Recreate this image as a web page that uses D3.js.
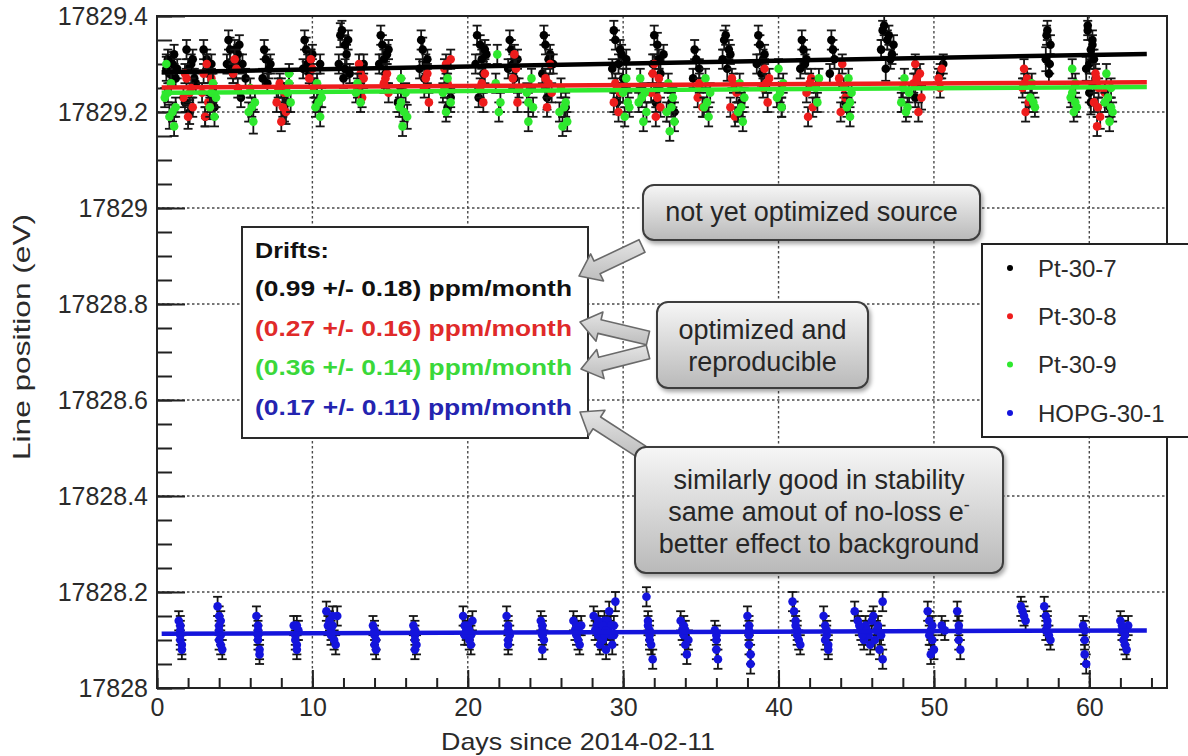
<!DOCTYPE html>
<html>
<head>
<meta charset="utf-8">
<script src="https://cdn.jsdelivr.net/npm/d3@7"></script>
<style>
  body { margin: 0; background: #fff; }
  svg text { font-family: Arial, Helvetica, "Liberation Sans", sans-serif; }
</style>
</head>
<body>
<div id="chart"></div>
<script>

// series names and colours (legend order)
var seriesNames = ['Pt-30-7', 'Pt-30-8', 'Pt-30-9', 'HOPG-30-1'];
var seriesColors = ['#000000', '#ee1c1c', '#2ee82e', '#1414dc'];

// [day, line position (eV), error]
var pt307 = [
  [0.6,17829.29,.025],[0.8,17829.28,.02],[1.0,17829.30,.025],[1.2,17829.27,.02],
  [1.8,17829.22,.02],[2.0,17829.29,.02],[2.1,17829.20,.025],[2.3,17829.31,.02],[2.4,17829.27,.02],
  [3.1,17829.19,.02],[3.3,17829.28,.02],[3.5,17829.30,.02],[3.7,17829.21,.02],
  [4.5,17829.30,.02],[4.7,17829.33,.025],[4.9,17829.28,.02],[5.1,17829.31,.02],[5.2,17829.32,.02],
  [5.4,17829.23,.02],[5.5,17829.30,.02],[5.7,17829.27,.02],
  [6.8,17829.27,.02],[7.0,17829.31,.02],[7.1,17829.26,.02],[7.2,17829.29,.02],
  [8.2,17829.20,.02],[8.4,17829.22,.02],
  [9.4,17829.29,.02],[9.6,17829.33,.025],[9.8,17829.28,.02],[9.9,17829.31,.02],
  [10.3,17829.22,.02],[10.5,17829.30,.02],
  [11.7,17829.30,.02],[11.8,17829.36,.025],[12.0,17829.27,.02],[12.1,17829.34,.02],[12.2,17829.32,.02],[12.4,17829.28,.02],
  [13.1,17829.24,.02],[13.3,17829.30,.02],
  [14.3,17829.30,.02],[14.5,17829.34,.02],[14.7,17829.28,.025],[14.8,17829.32,.02],
  [15.5,17829.22,.02],[15.7,17829.25,.02],
  [16.9,17829.29,.02],[17.1,17829.33,.025],[17.2,17829.27,.02],[17.4,17829.31,.02],
  [18.7,17829.21,.02],[18.9,17829.23,.02],
  [20.5,17829.30,.02],[20.7,17829.23,.02],[20.8,17829.34,.02],[21.0,17829.28,.025],[21.2,17829.32,.02],
  [22.6,17829.29,.02],[22.8,17829.33,.02],[23.0,17829.27,.025],[23.2,17829.31,.02],
  [24.8,17829.28,.02],[25.0,17829.34,.02],[25.1,17829.23,.025],[25.3,17829.32,.02],[25.5,17829.30,.02],
  [26.3,17829.21,.02],
  [29.3,17829.29,.02],[29.5,17829.35,.02],[29.6,17829.22,.025],[29.8,17829.33,.02],[30.0,17829.27,.02],[30.2,17829.31,.02],
  [31.9,17829.30,.02],[32.1,17829.22,.02],[32.2,17829.34,.025],[32.4,17829.28,.02],[32.6,17829.32,.02],
  [33.1,17829.22,.02],[33.3,17829.20,.02],
  [34.5,17829.27,.02],[34.7,17829.31,.02],[34.9,17829.29,.02],
  [36.4,17829.31,.02],[36.5,17829.35,.02],[36.7,17829.29,.025],[36.8,17829.33,.02],
  [37.4,17829.20,.02],[37.6,17829.22,.02],
  [38.6,17829.30,.02],[38.8,17829.34,.02],[38.9,17829.28,.025],[39.1,17829.32,.02],
  [40.2,17829.21,.02],
  [41.4,17829.29,.02],[41.6,17829.33,.02],[41.8,17829.31,.02],
  [43.3,17829.28,.02],[43.5,17829.33,.02],[43.6,17829.31,.02],
  [44.3,17829.22,.02],
  [46.6,17829.33,.02],[46.8,17829.38,.02],[46.9,17829.29,.025],[47.1,17829.36,.02],[47.2,17829.31,.02],[47.4,17829.34,.02],
  [48.8,17829.23,.02],
  [50.4,17829.28,.02],[50.6,17829.30,.02],
  [57.2,17829.31,.025],[57.3,17829.37,.02],[57.4,17829.28,.02],[57.5,17829.34,.02],
  [59.8,17829.29,.025],[59.9,17829.38,.02],[60.0,17829.24,.02],[60.1,17829.33,.02],[60.1,17829.22,.025],
  [60.2,17829.35,.02],[60.3,17829.31,.02],[60.4,17829.27,.02],
  [61.3,17829.21,.02],
  [0.7,17829.31,.02],[0.9,17829.26,.02],[1.1,17829.32,.02],[1.3,17829.29,.02],
  [1.9,17829.33,.02],[2.2,17829.30,.02],[2.5,17829.26,.02],
  [3.0,17829.33,.02],[3.2,17829.31,.02],[3.6,17829.24,.02],
  [4.6,17829.35,.02],[4.8,17829.29,.02],[5.0,17829.33,.02],[5.3,17829.34,.02],
  [6.9,17829.33,.02],[7.3,17829.30,.02],[8.0,17829.25,.02],
  [9.5,17829.35,.02],[9.7,17829.30,.02],[10.0,17829.32,.02],
  [11.9,17829.37,.02],[12.1,17829.29,.02],[12.3,17829.35,.02],
  [14.4,17829.36,.02],[14.6,17829.31,.02],[14.9,17829.33,.02],
  [17.0,17829.35,.02],[17.3,17829.30,.02],
  [20.6,17829.36,.02],[20.9,17829.31,.02],[21.1,17829.33,.02],
  [22.7,17829.35,.02],[22.9,17829.30,.02],
  [24.9,17829.36,.02],[25.2,17829.31,.02],
  [29.4,17829.37,.02],[29.7,17829.30,.02],[29.9,17829.32,.02],
  [32.0,17829.36,.02],[32.3,17829.31,.02],[34.6,17829.33,.02],
  [36.6,17829.36,.02],[36.9,17829.32,.02],
  [38.7,17829.36,.02],[39.0,17829.31,.02],
  [41.5,17829.35,.02],[41.7,17829.30,.02],[43.4,17829.35,.02],
  [46.7,17829.37,.02],[47.0,17829.35,.02],[47.3,17829.32,.02],
  [57.25,17829.36,.02],[57.45,17829.30,.02],
  [59.9,17829.37,.02],[60.0,17829.30,.02],[60.2,17829.34,.02],[60.3,17829.26,.02]
];

var pt308 = [
  [1.7,17829.23,.02],[1.9,17829.27,.02],[2.0,17829.19,.025],[2.2,17829.25,.02],[2.3,17829.21,.02],
  [2.9,17829.24,.02],[3.1,17829.19,.02],[3.2,17829.30,.02],[3.4,17829.21,.025],[3.5,17829.27,.02],
  [4.9,17829.28,.02],[5.0,17829.31,.02],[5.2,17829.25,.02],
  [7.7,17829.22,.02],[7.9,17829.26,.02],[8.0,17829.18,.02],[8.2,17829.24,.02],[8.3,17829.20,.025],
  [9.8,17829.27,.02],[9.9,17829.31,.02],[10.1,17829.25,.02],
  [12.9,17829.25,.02],[13.0,17829.30,.02],[13.2,17829.23,.02],[13.3,17829.27,.02],
  [14.6,17829.26,.02],[14.8,17829.28,.02],[14.9,17829.24,.02],
  [17.2,17829.25,.02],[17.4,17829.28,.02],[17.5,17829.22,.02],
  [18.5,17829.29,.02],[18.7,17829.26,.02],[18.9,17829.31,.02],
  [20.8,17829.25,.02],[21.0,17829.22,.02],[21.1,17829.28,.02],
  [22.9,17829.27,.02],[23.0,17829.32,.02],[23.2,17829.22,.02],[23.3,17829.25,.02],
  [25.0,17829.27,.02],[25.1,17829.21,.02],[25.3,17829.30,.02],[25.4,17829.24,.02],
  [29.4,17829.22,.02],[29.5,17829.26,.02],[29.7,17829.20,.02],[29.8,17829.24,.02],
  [31.8,17829.24,.02],[32.0,17829.30,.02],[32.1,17829.19,.02],[32.3,17829.27,.02],[32.4,17829.21,.02],
  [34.8,17829.23,.02],[34.9,17829.26,.02],[35.1,17829.21,.02],
  [36.9,17829.21,.02],[37.0,17829.27,.02],[37.2,17829.19,.02],[37.3,17829.24,.02],
  [39.0,17829.25,.02],[39.1,17829.29,.02],[39.3,17829.22,.02],[39.4,17829.27,.02],
  [41.8,17829.24,.02],[41.9,17829.19,.02],[42.1,17829.27,.02],[42.2,17829.21,.02],
  [43.9,17829.27,.02],[44.0,17829.20,.02],[44.1,17829.30,.02],[44.3,17829.23,.02],
  [48.7,17829.26,.02],[48.8,17829.30,.02],[49.0,17829.20,.02],[49.1,17829.28,.02],[49.2,17829.23,.025],
  [50.3,17829.27,.02],[50.4,17829.25,.02],[50.5,17829.29,.02],
  [55.7,17829.25,.02],[55.8,17829.29,.02],[55.9,17829.20,.02],[56.0,17829.27,.02],[56.1,17829.22,.02],
  [60.3,17829.22,.02],[60.4,17829.28,.02],[60.5,17829.17,.02],[60.6,17829.25,.02],[60.7,17829.19,.025],
  [61.0,17829.24,.02],
  [1.8,17829.28,.02],[2.1,17829.24,.02],[3.0,17829.28,.02],[3.3,17829.22,.02],
  [5.1,17829.29,.02],[7.8,17829.25,.02],[8.1,17829.21,.02],
  [10.0,17829.29,.02],[13.1,17829.28,.02],[14.7,17829.27,.02],
  [17.3,17829.27,.02],[18.6,17829.30,.02],[20.9,17829.26,.02],
  [23.1,17829.29,.02],[25.2,17829.26,.02],[29.6,17829.25,.02],
  [31.9,17829.28,.02],[32.2,17829.23,.02],[34.9,17829.25,.02],
  [37.1,17829.26,.02],[39.2,17829.26,.02],[42.0,17829.26,.02],
  [44.2,17829.25,.02],[48.9,17829.27,.02],[55.85,17829.26,.02],[60.45,17829.27,.02],[60.55,17829.21,.02]
];

var pt309 = [
  [0.5,17829.23,.02],[0.6,17829.30,.02],[0.8,17829.19,.025],[0.9,17829.26,.02],[1.1,17829.17,.02],[1.2,17829.21,.02],
  [3.4,17829.21,.02],[3.6,17829.26,.02],[3.7,17829.19,.02],[3.8,17829.23,.02],
  [5.9,17829.20,.02],[6.0,17829.25,.02],[6.2,17829.18,.025],[6.3,17829.22,.02],
  [8.4,17829.24,.02],[8.5,17829.28,.02],[8.6,17829.22,.02],
  [10.2,17829.21,.02],[10.3,17829.26,.02],[10.5,17829.19,.02],[10.6,17829.23,.02],
  [12.8,17829.24,.02],[12.9,17829.26,.02],[13.1,17829.22,.02],
  [15.6,17829.21,.02],[15.7,17829.27,.02],[15.8,17829.17,.02],[16.0,17829.24,.02],[16.1,17829.19,.025],
  [18.4,17829.24,.02],[18.6,17829.20,.02],[18.7,17829.27,.02],[18.9,17829.22,.02],
  [21.8,17829.26,.02],[21.9,17829.32,.02],[22.0,17829.20,.02],[22.1,17829.22,.02],
  [23.8,17829.24,.02],[23.9,17829.18,.02],[24.1,17829.27,.02],[24.2,17829.21,.02],
  [25.9,17829.20,.02],[26.0,17829.25,.02],[26.1,17829.17,.02],[26.3,17829.22,.02],[26.4,17829.18,.02],
  [30.0,17829.24,.02],[30.1,17829.19,.02],[30.2,17829.27,.02],[30.4,17829.21,.02],
  [31.0,17829.22,.02],[31.1,17829.27,.02],[31.3,17829.18,.02],[31.4,17829.24,.02],[31.5,17829.20,.02],
  [32.8,17829.20,.02],[32.9,17829.26,.02],[33.0,17829.16,.02],[33.2,17829.23,.02],[33.3,17829.18,.02],
  [35.2,17829.21,.02],[35.3,17829.27,.02],[35.5,17829.19,.02],[35.6,17829.24,.02],
  [37.4,17829.20,.02],[37.5,17829.26,.02],[37.7,17829.18,.02],[37.8,17829.23,.02],
  [39.9,17829.23,.02],[40.0,17829.29,.02],[40.2,17829.21,.02],[40.3,17829.26,.02],
  [42.4,17829.25,.02],[42.5,17829.22,.02],[42.6,17829.27,.02],
  [44.4,17829.21,.02],[44.5,17829.27,.02],[44.6,17829.19,.02],[44.7,17829.24,.02],
  [47.9,17829.22,.02],[48.1,17829.27,.02],[48.2,17829.20,.02],[48.4,17829.24,.02],
  [56.2,17829.23,.02],[56.3,17829.26,.02],[56.5,17829.21,.02],
  [58.8,17829.23,.02],[58.9,17829.29,.02],[59.0,17829.20,.02],[59.1,17829.26,.02],[59.2,17829.21,.02],
  [61.0,17829.22,.02],[61.1,17829.28,.02],[61.3,17829.18,.02],[61.4,17829.25,.02],[61.5,17829.20,.02],
  [0.7,17829.24,.02],[1.0,17829.20,.02],[3.5,17829.24,.02],[6.1,17829.21,.02],
  [8.5,17829.26,.02],[10.4,17829.22,.02],[15.7,17829.22,.02],[15.9,17829.20,.02],
  [18.5,17829.25,.02],[23.9,17829.22,.02],[26.2,17829.21,.02],[30.3,17829.22,.02],
  [31.2,17829.23,.02],[33.1,17829.21,.02],[35.4,17829.22,.02],[37.6,17829.21,.02],
  [40.1,17829.24,.02],[44.6,17829.22,.02],[48.0,17829.25,.02],[48.3,17829.21,.02],
  [56.4,17829.22,.02],[58.9,17829.24,.02],[59.1,17829.22,.02],[61.2,17829.23,.02],[61.4,17829.21,.02]
];

var hopg301 = [
  [1.4,17828.14,.02],[1.5,17828.12,.02],[1.5,17828.10,.02],[1.6,17828.08,.02],[1.5,17828.11,.02],
  [3.9,17828.17,.02],[4.0,17828.15,.02],[4.0,17828.13,.02],[4.1,17828.11,.02],[4.1,17828.09,.02],[4.2,17828.08,.02],
  [6.4,17828.15,.02],[6.5,17828.12,.02],[6.5,17828.10,.02],[6.6,17828.08,.02],[6.6,17828.07,.02],
  [8.8,17828.13,.02],[8.9,17828.11,.02],[9.0,17828.09,.02],[9.0,17828.08,.02],[9.1,17828.12,.02],
  [10.9,17828.16,.02],[11.1,17828.14,.02],[11.2,17828.12,.02],[11.3,17828.13,.02],[11.4,17828.10,.02],[11.5,17828.09,.02],[11.6,17828.15,.02],
  [13.9,17828.13,.02],[14.0,17828.11,.02],[14.0,17828.09,.02],[14.1,17828.08,.02],
  [16.5,17828.13,.02],[16.6,17828.11,.02],[16.7,17828.09,.02],[16.6,17828.08,.02],
  [19.7,17828.15,.02],[19.8,17828.13,.02],[19.9,17828.12,.02],[20.0,17828.11,.02],[20.1,17828.10,.02],[20.2,17828.09,.02],[20.3,17828.14,.02],
  [22.5,17828.15,.02],[22.6,17828.13,.02],[22.7,17828.11,.02],[22.6,17828.09,.02],
  [24.7,17828.14,.02],[24.8,17828.12,.02],[24.9,17828.10,.02],[24.8,17828.08,.02],
  [26.8,17828.14,.02],[26.9,17828.12,.02],[27.0,17828.11,.02],[27.1,17828.10,.02],[27.2,17828.09,.02],[27.3,17828.13,.02],
  [28.1,17828.15,.02],[28.3,17828.13,.02],[28.4,17828.11,.02],[28.5,17828.09,.02],[28.6,17828.12,.02],[28.7,17828.10,.02],
  [28.8,17828.14,.02],[28.9,17828.08,.02],[29.0,17828.12,.02],[29.1,17828.16,.02],[29.2,17828.11,.02],[29.3,17828.09,.02],
  [29.4,17828.13,.02],[29.5,17828.18,.02],
  [31.5,17828.19,.02],[31.6,17828.14,.02],[31.7,17828.12,.02],[31.8,17828.09,.02],[31.9,17828.06,.02],[31.7,17828.10,.02],
  [33.7,17828.14,.02],[33.8,17828.12,.02],[33.9,17828.11,.02],[34.0,17828.09,.02],[34.1,17828.07,.02],[34.2,17828.10,.02],
  [35.9,17828.12,.02],[36.0,17828.10,.02],[36.0,17828.08,.02],[36.1,17828.06,.02],
  [38.0,17828.15,.02],[38.1,17828.12,.02],[38.1,17828.09,.02],[38.2,17828.07,.02],[38.2,17828.05,.02],
  [40.9,17828.18,.02],[41.0,17828.16,.02],[41.1,17828.14,.02],[41.2,17828.12,.02],[41.3,17828.10,.02],[41.4,17828.09,.02],
  [42.9,17828.15,.02],[43.0,17828.13,.02],[43.1,17828.11,.02],[43.2,17828.09,.02],[43.2,17828.08,.02],
  [44.9,17828.16,.02],[45.1,17828.14,.02],[45.3,17828.12,.02],[45.5,17828.10,.02],[45.6,17828.13,.02],[45.8,17828.11,.02],
  [45.9,17828.09,.02],[46.1,17828.15,.02],[46.3,17828.12,.02],[46.5,17828.08,.02],[46.7,17828.18,.02],[46.7,17828.06,.02],
  [49.6,17828.16,.02],[49.7,17828.14,.02],[49.8,17828.12,.02],[49.9,17828.10,.02],[50.0,17828.08,.02],[49.8,17828.07,.02],
  [50.5,17828.13,.02],[50.7,17828.12,.02],
  [51.5,17828.16,.02],[51.6,17828.13,.02],[51.6,17828.10,.02],[51.7,17828.08,.02],
  [55.6,17828.17,.02],[55.7,17828.16,.02],[55.8,17828.15,.02],[55.9,17828.14,.02],
  [57.1,17828.17,.02],[57.2,17828.15,.02],[57.3,17828.13,.02],[57.4,17828.11,.02],[57.5,17828.10,.02],
  [59.6,17828.13,.02],[59.7,17828.10,.02],[59.7,17828.07,.02],[59.8,17828.05,.02],
  [62.0,17828.14,.02],[62.1,17828.12,.02],[62.2,17828.10,.02],[62.3,17828.09,.02],[62.4,17828.08,.02],[62.5,17828.13,.02],
  [1.5,17828.13,.02],[1.6,17828.09,.02],[4.0,17828.12,.02],[4.1,17828.14,.02],[4.0,17828.10,.02],
  [6.5,17828.13,.02],[6.5,17828.11,.02],[8.9,17828.10,.02],[9.0,17828.13,.02],
  [11.2,17828.11,.02],[11.3,17828.15,.02],[11.0,17828.13,.02],[14.0,17828.12,.02],[14.1,17828.10,.02],
  [16.6,17828.12,.02],[16.6,17828.10,.02],
  [19.8,17828.11,.02],[20.0,17828.13,.02],[20.1,17828.12,.02],[20.2,17828.11,.02],
  [22.6,17828.12,.02],[22.6,17828.10,.02],[24.8,17828.11,.02],[24.8,17828.13,.02],
  [27.0,17828.13,.02],[27.1,17828.12,.02],
  [28.2,17828.12,.02],[28.4,17828.14,.02],[28.6,17828.10,.02],[28.8,17828.11,.02],[29.0,17828.14,.02],
  [29.2,17828.13,.02],[29.4,17828.11,.02],[28.7,17828.13,.02],[28.9,17828.12,.02],
  [31.7,17828.11,.02],[31.6,17828.13,.02],[33.9,17828.13,.02],[34.0,17828.12,.02],[36.0,17828.11,.02],
  [38.1,17828.11,.02],[38.1,17828.13,.02],[41.1,17828.13,.02],[41.2,17828.11,.02],
  [43.1,17828.12,.02],[43.0,17828.10,.02],
  [45.2,17828.13,.02],[45.4,17828.11,.02],[45.7,17828.12,.02],[46.0,17828.14,.02],[46.2,17828.10,.02],
  [46.4,17828.13,.02],[46.6,17828.11,.02],
  [49.7,17828.11,.02],[49.9,17828.13,.02],[51.6,17828.12,.02],
  [57.3,17828.14,.02],[57.2,17828.12,.02],[59.7,17828.12,.02],
  [62.2,17828.12,.02],[62.3,17828.11,.02],[62.1,17828.13,.02]
];

// linear fits: value at first and last day of fit range
var fitDays = [0.3, 63.7];
var fitPt307 = [17829.283, 17829.321];
var fitPt308 = [17829.251, 17829.262];
var fitPt309 = [17829.240, 17829.252];
var fitHopg301 = [17828.113, 17828.120];

var driftLabels = [
  '(0.99 +/- 0.18) ppm/month',
  '(0.27 +/- 0.16) ppm/month',
  '(0.36 +/- 0.14) ppm/month',
  '(0.17 +/- 0.11) ppm/month'
];
var driftColors = ['#111111', '#e02a2a', '#3ad83a', '#2424b0'];

var xTicksMajor = [0, 10, 20, 30, 40, 50, 60];
var yTicksMajor = [17828, 17828.2, 17828.4, 17828.6, 17828.8, 17829, 17829.2, 17829.4];


function renderChart() {
    var attrs = {
        svgWidth: 1188,
        svgHeight: 756,
        marginTop: 16,
        marginLeft: 157,
        marginRight: 21,
        marginBottom: 68,
        fontFamily: 'Arial, Helvetica, "Liberation Sans", sans-serif'
    };

    var calc = {};
    calc.left = attrs.marginLeft;
    calc.top = attrs.marginTop;
    calc.right = attrs.svgWidth - attrs.marginRight;
    calc.bottom = attrs.svgHeight - attrs.marginBottom;

    var svg = d3.select('#chart')
        .append('svg')
        .attr('width', attrs.svgWidth)
        .attr('height', attrs.svgHeight)
        .attr('font-family', attrs.fontFamily);

    var defs = svg.append('defs');
    defs.append('clipPath').attr('id', 'plotClip')
        .append('rect')
        .attr('x', calc.left).attr('y', calc.top)
        .attr('width', calc.right - calc.left).attr('height', calc.bottom - calc.top);

    var grad = defs.append('linearGradient').attr('id', 'boxGrad')
        .attr('x1', 0).attr('y1', 0).attr('x2', 0).attr('y2', 1);
    grad.append('stop').attr('offset', '0%').attr('stop-color', '#f6f6f6');
    grad.append('stop').attr('offset', '100%').attr('stop-color', '#b9b9b9');

    var agrad = defs.append('linearGradient').attr('id', 'arrowGrad')
        .attr('x1', 0).attr('y1', 0).attr('x2', 0).attr('y2', 1);
    agrad.append('stop').attr('offset', '0%').attr('stop-color', '#e4e4e4');
    agrad.append('stop').attr('offset', '100%').attr('stop-color', '#bdbdbd');

    var shadow = defs.append('filter').attr('id', 'shadow')
        .attr('x', '-10%').attr('y', '-10%').attr('width', '130%').attr('height', '140%');
    shadow.append('feDropShadow')
        .attr('dx', 2).attr('dy', 3).attr('stdDeviation', 2)
        .attr('flood-color', '#000').attr('flood-opacity', 0.35);

    var x = d3.scaleLinear().domain([0, 65]).range([calc.left, calc.right]);
    var y = d3.scaleLinear().domain([17828, 17829.4]).range([calc.bottom, calc.top]);

    // grid
    var grid = svg.append('g')
        .attr('stroke', '#4a4a4a')
        .attr('stroke-width', 1.4)
        .attr('stroke-dasharray', '2.5,2.5');
    grid.selectAll('.gx')
        .data(xTicksMajor.filter(function (d) { return d > 0; }))
        .enter().append('line')
        .attr('x1', function (d) { return x(d); })
        .attr('x2', function (d) { return x(d); })
        .attr('y1', calc.top).attr('y2', calc.bottom);
    grid.selectAll('.gy')
        .data(yTicksMajor.slice(1, -1))
        .enter().append('line')
        .attr('y1', function (d) { return y(d); })
        .attr('y2', function (d) { return y(d); })
        .attr('x1', calc.left).attr('x2', calc.right);

    // axes (ROOT style: ticks pointing inside)
    var fmt = function (d) { return String(+d.toFixed(1)); };

    svg.append('g')
        .attr('transform', 'translate(' + calc.left + ',0)')
        .call(d3.axisLeft(y).tickValues(yTicksMajor).tickSize(-28).tickPadding(9).tickFormat(fmt));
    svg.append('g')
        .attr('transform', 'translate(' + calc.left + ',0)')
        .call(d3.axisLeft(y).tickValues(d3.range(17828, 17829.4, 0.05)).tickSize(-15).tickFormat(''));

    svg.append('g')
        .attr('transform', 'translate(0,' + calc.bottom + ')')
        .call(d3.axisBottom(x).tickValues(xTicksMajor).tickSize(-18).tickPadding(10).tickFormat(d3.format('d')));
    svg.append('g')
        .attr('transform', 'translate(0,' + calc.bottom + ')')
        .call(d3.axisBottom(x).tickValues(d3.range(0, 65, 2)).tickSize(-10).tickFormat(''));

    svg.selectAll('.domain').remove();
    svg.selectAll('.tick line').attr('stroke', '#222').attr('stroke-width', 2);
    svg.selectAll('.tick text')
        .attr('font-family', attrs.fontFamily)
        .attr('font-size', 25)
        .attr('fill', '#2a2a2a');

    // data points
    var plot = svg.append('g').attr('clip-path', 'url(#plotClip)');
    var allSeries = [pt307, pt308, pt309, hopg301];

    allSeries.forEach(function (data, si) {
        var g = plot.append('g');
        var bars = g.selectAll('.err').data(data).enter().append('g')
            .attr('stroke', '#151515').attr('stroke-width', 1.8);
        bars.append('line')
            .attr('x1', function (d) { return x(d[0]); })
            .attr('x2', function (d) { return x(d[0]); })
            .attr('y1', function (d) { return y(d[1] - d[2]); })
            .attr('y2', function (d) { return y(d[1] + d[2]); });
        bars.append('line')
            .attr('x1', function (d) { return x(d[0]) - 4.5; })
            .attr('x2', function (d) { return x(d[0]) + 4.5; })
            .attr('y1', function (d) { return y(d[1] + d[2]); })
            .attr('y2', function (d) { return y(d[1] + d[2]); });
        bars.append('line')
            .attr('x1', function (d) { return x(d[0]) - 4.5; })
            .attr('x2', function (d) { return x(d[0]) + 4.5; })
            .attr('y1', function (d) { return y(d[1] - d[2]); })
            .attr('y2', function (d) { return y(d[1] - d[2]); });
        g.selectAll('circle').data(data).enter().append('circle')
            .attr('cx', function (d) { return x(d[0]); })
            .attr('cy', function (d) { return y(d[1]); })
            .attr('r', 4.3)
            .attr('fill', seriesColors[si]);
    });

    // fit lines
    var fits = [fitPt307, fitPt308, fitPt309, fitHopg301];
    var line = d3.line()
        .x(function (d, i) { return x(fitDays[i]); })
        .y(function (d) { return y(d); });
    fits.forEach(function (f, i) {
        plot.append('path')
            .attr('d', line(f))
            .attr('fill', 'none')
            .attr('stroke', seriesColors[i])
            .attr('stroke-width', 4.5);
    });

    // frame
    svg.append('rect')
        .attr('x', calc.left).attr('y', calc.top)
        .attr('width', calc.right - calc.left).attr('height', calc.bottom - calc.top)
        .attr('fill', 'none').attr('stroke', '#222').attr('stroke-width', 2);

    // axis titles
    svg.append('text')
        .attr('x', 578)
        .attr('y', 750)
        .attr('text-anchor', 'middle')
        .attr('font-size', 24)
        .attr('fill', '#2a2a2a')
        .attr('textLength', 274)
        .attr('lengthAdjust', 'spacingAndGlyphs')
        .text('Days since 2014-02-11');

    svg.append('text')
        .attr('transform', 'translate(30,337) rotate(-90)')
        .attr('text-anchor', 'middle')
        .attr('font-size', 24)
        .attr('fill', '#2a2a2a')
        .attr('textLength', 246)
        .attr('lengthAdjust', 'spacingAndGlyphs')
        .text('Line position (eV)');

    // drifts box
    svg.append('rect')
        .attr('x', 242).attr('y', 227).attr('width', 346).attr('height', 211)
        .attr('fill', '#fff').attr('stroke', '#2a2a2a').attr('stroke-width', 2);
    svg.append('text')
        .attr('x', 255).attr('y', 258)
        .attr('font-size', 22).attr('font-weight', 'bold')
        .attr('fill', '#111')
        .attr('textLength', 74).attr('lengthAdjust', 'spacingAndGlyphs')
        .text('Drifts:');
    svg.selectAll('.drift').data(driftLabels).enter().append('text')
        .attr('x', 255)
        .attr('y', function (d, i) { return 296 + i * 39.5; })
        .attr('font-size', 22).attr('font-weight', 'bold')
        .attr('fill', function (d, i) { return driftColors[i]; })
        .attr('textLength', 317).attr('lengthAdjust', 'spacingAndGlyphs')
        .text(function (d) { return d; });

    // legend
    var legend = svg.append('g');
    legend.append('rect')
        .attr('x', 982).attr('y', 244).attr('width', 230).attr('height', 193)
        .attr('fill', '#fff').attr('stroke', '#222').attr('stroke-width', 2);
    var items = legend.selectAll('.item').data(seriesNames).enter().append('g')
        .attr('transform', function (d, i) { return 'translate(0,' + (268 + i * 48.3) + ')'; });
    items.append('circle').attr('cx', 1010).attr('cy', 0).attr('r', 3)
        .attr('fill', function (d, i) { return seriesColors[i]; });
    items.append('text').attr('x', 1038).attr('y', 0).attr('dy', '0.36em')
        .attr('font-size', 24).attr('fill', '#2a2a2a')
        .text(function (d) { return d; });

    // callout arrows
    function arrowPath(x1, y1, x2, y2) {
        var dx = x2 - x1, dy = y2 - y1, L = Math.hypot(dx, dy);
        var ux = dx / L, uy = dy / L, nx = -uy, ny = ux;
        var sw = 7, hw = 15, hl = 20;
        var bx = x2 - ux * hl, by = y2 - uy * hl;
        return d3.line()([
            [x1 + nx * sw, y1 + ny * sw], [bx + nx * sw, by + ny * sw], [bx + nx * hw, by + ny * hw],
            [x2, y2],
            [bx - nx * hw, by - ny * hw], [bx - nx * sw, by - ny * sw], [x1 - nx * sw, y1 - ny * sw]
        ]) + 'Z';
    }
    var arrows = [[642, 246, 579, 276], [648, 338, 580, 322], [648, 352, 581, 369], [642, 452, 580, 412]];
    svg.selectAll('.arrow').data(arrows).enter().append('path')
        .attr('d', function (a) { return arrowPath(a[0], a[1], a[2], a[3]); })
        .attr('fill', 'url(#arrowGrad)')
        .attr('stroke', '#6a6a6a').attr('stroke-width', 1.6)
        .attr('stroke-linejoin', 'round');

    // callout boxes
    var callouts = [
        { x: 643, y: 185, w: 337, h: 55, lines: ['not yet optimized source'], y0: 221 },
        { x: 657, y: 302, w: 211, h: 86, lines: ['optimized and', 'reproducible'], y0: 339 },
        { x: 635, y: 447, w: 368, h: 126, lines: ['similarly good in stability', 'same amout of no-loss e', 'better effect to background'], y0: 489 }
    ];
    callouts.forEach(function (c) {
        var g = svg.append('g');
        g.append('rect')
            .attr('x', c.x).attr('y', c.y).attr('width', c.w).attr('height', c.h)
            .attr('rx', 11).attr('ry', 11)
            .attr('fill', 'url(#boxGrad)')
            .attr('stroke', '#3c3c3c').attr('stroke-width', 2)
            .attr('filter', 'url(#shadow)');
        c.lines.forEach(function (t, i) {
            var txt = g.append('text')
                .attr('x', c.x + c.w / 2)
                .attr('y', c.y0 + i * 32)
                .attr('text-anchor', 'middle')
                .attr('font-size', 27)
                .attr('fill', '#262626')
                .text(t);
            if (t.slice(-2) === ' e') {
                txt.append('tspan').attr('dy', -10).attr('font-size', 18).text('-');
            }
        });
    });
}

renderChart();
</script>
</body>
</html>
